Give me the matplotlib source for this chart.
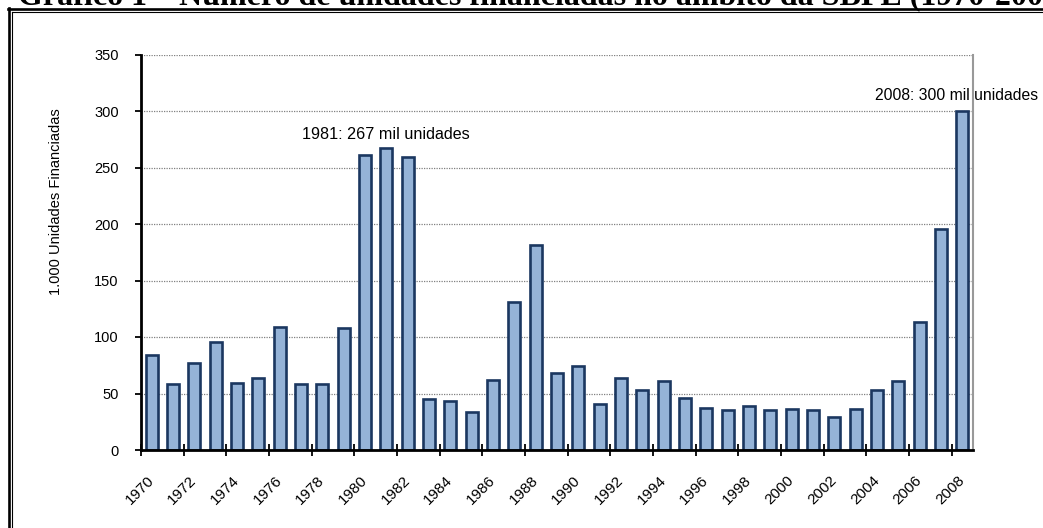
import matplotlib.pyplot as plt
from matplotlib.lines import Line2D

plt.rcParams['font.family'] = ['Liberation Sans', 'DejaVu Sans']

anos = list(range(1970, 2009))
unidades = [84, 58, 77, 96, 59, 64, 109, 58, 58, 108,
            261, 267, 259, 45, 43, 34, 62, 131, 181, 68,
            74, 41, 64, 53, 61, 46, 37, 35, 39, 35,
            36, 35, 29, 36, 53, 61, 113, 196, 300]
rotulos = [str(a) if a % 2 == 0 else '' for a in anos]

fig = plt.figure(figsize=(10.43, 5.28), dpi=100)
W, H = 1043, 528

# moldura dupla (esquerda e topo)
fig.add_artist(Line2D([8.7 / W, 8.7 / W], [0, 1 - 8 / H], color='black', lw=1.9))
fig.add_artist(Line2D([11.8 / W, 11.8 / W], [0, 1 - 11.8 / H], color='black', lw=0.8))
fig.add_artist(Line2D([7.8 / W, 1], [1 - 9.3 / H, 1 - 9.3 / H], color='black', lw=1.9))
fig.add_artist(Line2D([11.8 / W, 1], [1 - 11.8 / H, 1 - 11.8 / H], color='black', lw=0.8))

# titulo cortado no topo, como no original
fig.text(18 / W, 1 - 4.5 / H,
         'Gráfico 1 – Número de unidades financiadas no âmbito da SBPE (1970-2008)',
         family='Liberation Serif', fontweight='bold', fontsize=23,
         ha='left', va='baseline')

ax = fig.add_axes([141 / W, 78 / H, 832 / W, 395.5 / H])
x = list(range(len(anos)))
ax.bar(x, unidades, width=0.57, color='#95B3D7', edgecolor='#1B3760', linewidth=1.9, zorder=3)

ax.set_xlim(-0.5, len(anos) - 0.5)
ax.set_ylim(0, 350)
ax.set_yticks(range(0, 351, 50))
ax.yaxis.grid(True, color='#808080', linestyle=(0, (1, 1)), linewidth=0.9, zorder=0)
ax.tick_params(axis='y', direction='out', length=4, width=1.3, pad=12, labelsize=10.5)

# marcas nas fronteiras a cada dois anos, rotulos nos centros
ax.set_xticks([i - 0.5 for i in x if anos[i] % 2 == 0])
ax.set_xticklabels([])
ax.tick_params(axis='x', which='major', direction='inout', length=9, width=1.3)
ax.set_xticks(x, minor=True)
ax.set_xticklabels(rotulos, minor=True, rotation=45, ha='right', va='center',
                   rotation_mode='anchor', fontsize=11)
ax.tick_params(axis='x', which='minor', length=0, pad=20)

ax.spines['left'].set_linewidth(2)
ax.spines['bottom'].set_linewidth(2)
ax.spines['bottom'].set_zorder(4)
ax.spines['top'].set_visible(False)
ax.spines['right'].set_color('#999999')
ax.spines['right'].set_linewidth(1.5)

ax.text(anos.index(1981), 275, '1981: 267 mil unidades', ha='center', va='baseline',
        fontsize=11.6)
ax.text(anos.index(2008) - 0.25, 310, '2008: 300 mil unidades', ha='center', va='baseline',
        fontsize=11.3, clip_on=False)

fig.text(56 / W, 1 - 202 / H, '1.000 Unidades Financiadas', rotation=90,
         ha='center', va='center', fontsize=10.5)

plt.savefig('out.png', dpi=100)
